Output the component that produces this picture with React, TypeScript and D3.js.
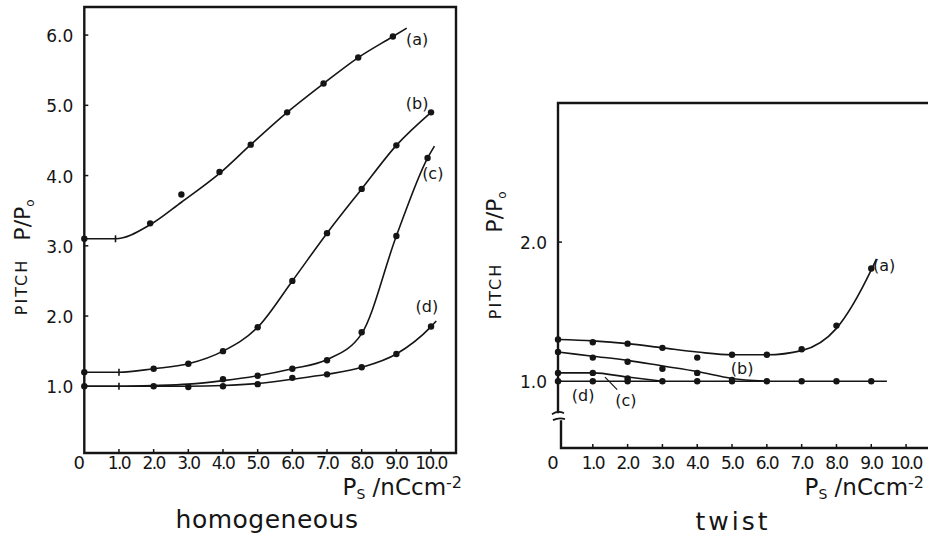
import React, { useEffect, useRef } from 'react' ;
import * as d3 from 'd3' ;

// x axis : spontaneous polarisation Ps (nC cm^-2)
const xTicks = [1, 2, 3, 4, 5, 6, 7, 8, 9, 10] ;
const xTickLabels = ['1.0', '2.0', '3.0', '4.0', '5.0', '6.0', '7.0', '8.0', '9.0', '10.0'] ;

// homogeneous cell, pitch P/P0
const homTicksY = [1, 2, 3, 4, 5, 6] ;
const homTickLabelsY = ['1.0', '2.0', '3.0', '4.0', '5.0', '6.0'] ;

const homLineA = [[0, 3.1], [0.9, 3.1], [1.9, 3.3], [2.8, 3.62], [3.9, 4.03], [4.8, 4.44], [5.85, 4.9], [6.9, 5.31], [7.9, 5.68], [8.9, 5.98], [9.3, 6.1]] ;
const homDotsA = [[0, 3.1], [1.9, 3.32], [2.8, 3.73], [3.9, 4.05], [4.8, 4.44], [5.85, 4.9], [6.9, 5.31], [7.9, 5.68], [8.9, 5.98]] ;

const homLineB = [[0, 1.2], [1, 1.2], [2, 1.25], [3, 1.32], [4, 1.5], [5, 1.84], [6, 2.5], [7, 3.18], [8, 3.81], [9, 4.43], [10, 4.9]] ;
const homDotsB = [[0, 1.2], [2, 1.25], [3, 1.32], [4, 1.5], [5, 1.84], [6, 2.5], [7, 3.18], [8, 3.81], [9, 4.43], [10, 4.9]] ;

const homLineC = [[0, 1.0], [1, 1.0], [2, 1.01], [3, 1.03], [4, 1.08], [5, 1.15], [6, 1.25], [7, 1.38], [8, 1.75], [9, 3.14], [9.9, 4.25], [10.1, 4.42]] ;
const homDotsC = [[4, 1.1], [5, 1.15], [6, 1.25], [7, 1.37], [8, 1.77], [9, 3.14], [9.9, 4.25]] ;

const homLineD = [[0, 1.0], [1, 1.0], [2, 1.0], [3, 1.0], [4, 1.01], [5, 1.04], [6, 1.1], [7, 1.17], [8, 1.27], [9, 1.46], [10, 1.85], [10.15, 1.93]] ;
const homDotsD = [[0, 1.0], [2, 1.0], [3, 0.99], [4, 1.0], [5, 1.03], [6, 1.12], [7, 1.17], [8, 1.27], [9, 1.46], [10, 1.85]] ;

// points drawn as a short bar instead of a dot
const homBars = [[0.9, 3.1], [1, 1.2], [1, 1.0]] ;

const homLabels = [['(a)', 9.6, 5.94], ['(b)', 9.6, 5.03], ['(c)', 10.05, 4.03], ['(d)', 9.88, 2.14]] ;

// twist cell, pitch P/P0
const twTicksY = [1, 2] ;
const twTickLabelsY = ['1.0', '2.0'] ;

const twLineA = [[0, 1.3], [1, 1.29], [2, 1.27], [3, 1.24], [4, 1.21], [5, 1.19], [6, 1.19], [7, 1.22], [8, 1.38], [9, 1.8], [9.15, 1.88]] ;
const twDotsA = [[0, 1.3], [1, 1.28], [2, 1.27], [3, 1.24], [4, 1.17], [5, 1.19], [6, 1.19], [7, 1.23], [8, 1.4], [9, 1.81]] ;

const twLineB = [[0, 1.21], [1, 1.18], [2, 1.15], [3, 1.11], [4, 1.07], [5, 1.02], [6, 1.0]] ;
const twDotsB = [[0, 1.21], [1, 1.17], [2, 1.14], [3, 1.09], [4, 1.06], [5, 1.01]] ;

const twLineC = [[0, 1.06], [1, 1.06], [2, 1.03], [3, 1.0]] ;
const twDotsC = [[0, 1.06], [1, 1.06], [2, 1.02]] ;

const twLineD = [[0, 1.0], [3, 1.0], [6, 1.0], [9.45, 1.0]] ;
const twDotsD = [[0, 1.0], [1, 1.0], [2, 1.0], [3, 1.0], [4, 1.0], [5, 1.0], [6, 1.0], [7, 1.0], [8, 1.0], [9, 1.0]] ;

const twLabels = [['(a)', 9.37, 1.83], ['(b)', 5.29, 1.095], ['(c)', 1.95, 0.86], ['(d)', 0.72, 0.9]] ;
const twLeader = [[1.35, 1.03], [1.7, 0.94]] ;

const FONT = '"DejaVu Sans", sans-serif' ;
const INK = '#151515' ;

const App = () => {

    const ref = useRef(null) ;

    useEffect( () => {

        const svg = d3.select(ref.current) ;
        svg.selectAll('*').remove() ;

        const drawPanel = (opt) => {

            const { x, y, lines, dots, bars, labels, ticksY, tickLabelsY, title, titleX, pitchX, ratioX, ratioY, pitchY, xLabelEnd, titleY, titleSpacing } = opt ;
            const g = svg.append('g') ;
            const x0 = x.range()[0] ;
            const x1 = x.range()[1] ;
            const yb = y.range()[0] ;
            const yt = y.range()[1] ;

            const line = d3.line().x(d => x(d[0])).y(d => y(d[1])).curve(d3.curveMonotoneX) ;

            lines.forEach( l => {
                g.append('path')
                    .attr('d', line(l))
                    .attr('fill', 'none')
                    .attr('stroke', INK)
                    .attr('stroke-width', 1.6) ;
            })

            dots.forEach( ds => {
                g.selectAll(null)
                    .data(ds)
                    .join('circle')
                    .attr('cx', d => x(d[0]))
                    .attr('cy', d => y(d[1]))
                    .attr('r', 3.2)
                    .attr('fill', INK) ;
            })

            g.selectAll(null)
                .data(bars)
                .join('line')
                .attr('x1', d => x(d[0]))
                .attr('x2', d => x(d[0]))
                .attr('y1', d => y(d[1]) - 3.5)
                .attr('y2', d => y(d[1]) + 3.5)
                .attr('stroke', INK)
                .attr('stroke-width', 1.6) ;

            g.selectAll(null)
                .data(labels)
                .join('text')
                .attr('x', d => x(d[1]))
                .attr('y', d => y(d[2]))
                .attr('dy', '0.35em')
                .attr('text-anchor', 'middle')
                .style('font-family', FONT)
                .style('font-size', '16px')
                .attr('fill', INK)
                .text(d => d[0]) ;

            // y tick labels and inward ticks
            g.selectAll(null)
                .data(ticksY)
                .join('line')
                .attr('x1', x0)
                .attr('x2', x0 + 4)
                .attr('y1', d => y(d))
                .attr('y2', d => y(d))
                .attr('stroke', INK)
                .attr('stroke-width', 1.5) ;

            g.selectAll(null)
                .data(ticksY)
                .join('text')
                .attr('x', x0 - 11)
                .attr('y', d => y(d) + 7)
                .attr('text-anchor', 'end')
                .style('font-family', FONT)
                .style('font-size', '17px')
                .attr('fill', INK)
                .text((d, i) => tickLabelsY[i]) ;

            // x tick labels and inward ticks
            g.selectAll(null)
                .data(xTicks)
                .join('line')
                .attr('x1', d => x(d))
                .attr('x2', d => x(d))
                .attr('y1', yb)
                .attr('y2', yb - 4)
                .attr('stroke', INK)
                .attr('stroke-width', 1.5) ;

            g.selectAll(null)
                .data(xTicks)
                .join('text')
                .attr('x', d => x(d))
                .attr('y', 469)
                .attr('text-anchor', 'middle')
                .style('font-family', FONT)
                .style('font-size', '17px')
                .style('letter-spacing', '-1.6px')
                .attr('fill', INK)
                .text((d, i) => xTickLabels[i]) ;

            g.append('text')
                .attr('x', x0 - 5)
                .attr('y', 469)
                .attr('text-anchor', 'middle')
                .style('font-family', FONT)
                .style('font-size', '18px')
                .attr('fill', INK)
                .text('0') ;

            // axis title x
            const xt = g.append('text')
                .attr('x', xLabelEnd)
                .attr('y', 495)
                .attr('text-anchor', 'end')
                .style('font-family', FONT)
                .style('font-size', '23px')
                .attr('fill', INK) ;
            xt.append('tspan').text('P') ;
            xt.append('tspan').attr('dy', 4).style('font-size', '14px').text('S') ;
            xt.append('tspan').attr('dy', -4).text(' /nCcm') ;
            xt.append('tspan').attr('dy', -7).style('font-size', '16px').text('-2') ;

            g.append('text')
                .attr('x', titleX)
                .attr('y', titleY)
                .attr('text-anchor', 'middle')
                .style('font-family', FONT)
                .style('font-size', '25px')
                .style('letter-spacing', titleSpacing)
                .attr('fill', INK)
                .text(title) ;

            // axis title y
            g.append('text')
                .attr('transform', `translate(${pitchX}, ${pitchY}) rotate(-90)`)
                .attr('text-anchor', 'middle')
                .style('font-family', FONT)
                .style('font-size', '16px')
                .style('letter-spacing', '2px')
                .attr('fill', INK)
                .text('PITCH') ;

            const yt2 = g.append('text')
                .attr('transform', `translate(${ratioX}, ${ratioY}) rotate(-90)`)
                .attr('text-anchor', 'middle')
                .style('font-family', FONT)
                .style('font-size', '22px')
                .attr('fill', INK) ;
            yt2.append('tspan').text('P/P') ;
            yt2.append('tspan').attr('dy', 4).style('font-size', '12px').text('o') ;

            return { g, x0, x1, yb, yt } ;
        }

        // homogeneous
        const xL = d3.scaleLinear().domain([0, 10.72]).range([84.3, 456]) ;
        const yL = d3.scaleLinear().domain([0.05, 6.4]).range([453, 7]) ;

        const left = drawPanel({
            x : xL, y : yL,
            lines : [homLineA, homLineB, homLineC, homLineD],
            dots : [homDotsA, homDotsB, homDotsC, homDotsD],
            bars : homBars,
            labels : homLabels,
            ticksY : homTicksY, tickLabelsY : homTickLabelsY,
            title : 'homogeneous', titleX : 267, titleY : 528, titleSpacing : '0.5px',
            pitchX : 27, pitchY : 287, ratioX : 30, ratioY : 220,
            xLabelEnd : 462,
        }) ;

        left.g.append('path')
            .attr('d', `M${left.x0},${left.yb} L${left.x0},${left.yt} L${left.x1},${left.yt} L${left.x1},${left.yb} Z`)
            .attr('fill', 'none')
            .attr('stroke', INK)
            .attr('stroke-width', 2.4) ;

        // twist
        const xR = d3.scaleLinear().domain([0, 10.63]).range([558, 928]) ;
        const yR = d3.scaleLinear().domain([0.52, 3.0]).range([448, 103]) ;

        const right = drawPanel({
            x : xR, y : yR,
            lines : [twLineA, twLineB, twLineC, twLineD],
            dots : [twDotsA, twDotsB, twDotsC, twDotsD],
            bars : [],
            labels : twLabels,
            ticksY : twTicksY, tickLabelsY : twTickLabelsY,
            title : 'twist', titleX : 733, titleY : 530, titleSpacing : '3px',
            pitchX : 501, pitchY : 291, ratioX : 502, ratioY : 212,
            xLabelEnd : 924,
        }) ;

        const brk1 = yR(0.77) ;
        const brk2 = yR(0.72) ;

        right.g.append('path')
            .attr('d', `M${right.x1},${right.yt} L${right.x0},${right.yt} L${right.x0},${brk1} M${right.x0 + 3},${brk2} L${right.x0 + 3},${right.yb} L${right.x1},${right.yb}`)
            .attr('fill', 'none')
            .attr('stroke', INK)
            .attr('stroke-width', 2.4) ;

        right.g.append('path')
            .attr('d', `M${right.x0 - 6},${brk1 + 1} Q${right.x0},${brk1 - 3} ${right.x0 + 6},${brk1} M${right.x0 - 5},${brk2} Q${right.x0 + 1},${brk2 - 3} ${right.x0 + 7},${brk2 - 1}`)
            .attr('fill', 'none')
            .attr('stroke', INK)
            .attr('stroke-width', 1.8) ;

        right.g.append('path')
            .attr('d', d3.line().x(d => xR(d[0])).y(d => yR(d[1]))(twLeader))
            .attr('stroke', INK)
            .attr('stroke-width', 1.2) ;

    }, [])

    return (
        <div style={{ position : 'absolute', left : 0, top : 0 }}>
            <svg ref={ref} width={928} height={541} style={{ display : 'block', background : '#fff' }}></svg>
        </div>
    )
}

export default App ;
